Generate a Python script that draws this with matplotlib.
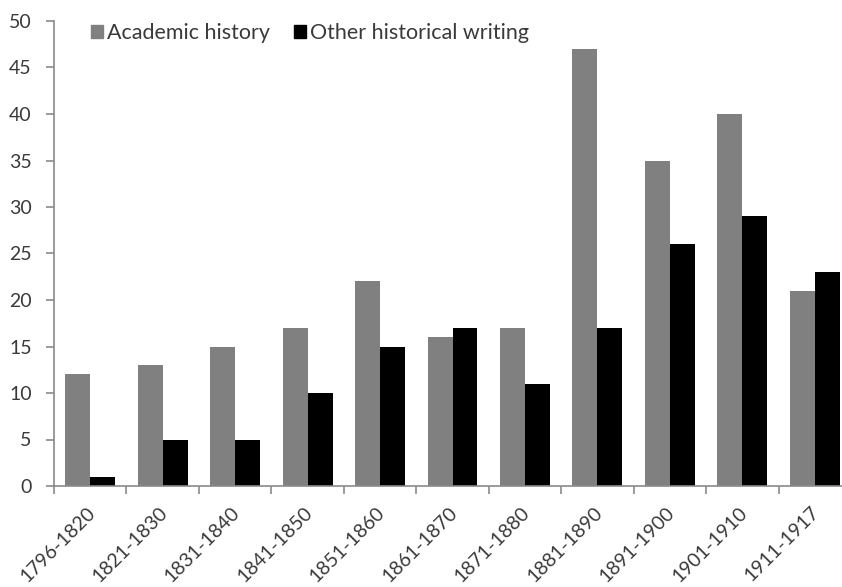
import matplotlib
matplotlib.use("Agg")
import matplotlib.pyplot as plt
import matplotlib.transforms as mtransforms
from matplotlib.patches import Patch
import numpy as np

periods = ["1796-1820", "1821-1830", "1831-1840", "1841-1850", "1851-1860",
           "1861-1870", "1871-1880", "1881-1890", "1891-1900", "1901-1910",
           "1911-1917"]
academic = [12, 13, 15, 17, 22, 16, 17, 47, 35, 40, 21]
other = [1, 5, 5, 10, 15, 17, 11, 17, 26, 29, 23]
series_names = ["Academic history", "Other historical writing"]

plt.rcParams["font.family"] = ["Lato", "DejaVu Sans"]

fig = plt.figure(figsize=(8.42, 5.87), dpi=100)
W, H = 842, 587
left, right, bottom, top = 54, 851, 486, 21
ax = fig.add_axes([left / W, (H - bottom) / H, (right - left) / W, (bottom - top) / H])

x = np.arange(len(periods))
bw = 0.345
ax.bar(x - bw / 2, academic, width=bw, color="#808080", label=series_names[0])
ax.bar(x + bw / 2, other, width=bw, color="#000000", label=series_names[1])

ax.set_xlim(-0.5, len(periods) - 0.5)
ax.set_ylim(0, 50)
ax.set_yticks(np.arange(0, 51, 5))

axis_col = "#8a8a8a"
text_col = "#3a3a3a"
for s in ["top", "right"]:
    ax.spines[s].set_visible(False)
for s in ["left", "bottom"]:
    ax.spines[s].set_color(axis_col)
    ax.spines[s].set_linewidth(1.2)

ax.tick_params(axis="y", direction="out", length=6, width=1.2, color=axis_col,
               labelsize=14, labelcolor=text_col, pad=10)

# category boundary ticks on the x axis, labels centred under each group
ax.set_xticks(np.arange(len(periods) + 1) - 0.5)
ax.set_xticklabels([])
ax.tick_params(axis="x", which="major", direction="out", length=6, width=1.2, color=axis_col)
ax.set_xticks(x, minor=True)
ax.set_xticklabels(periods, minor=True, rotation=45, ha="right", va="center",
                   rotation_mode="anchor", fontsize=14, color=text_col)
ax.tick_params(axis="x", which="minor", length=0, pad=17)
offset = mtransforms.ScaledTranslation(2 / 100, 0, fig.dpi_scale_trans)
for lbl in ax.get_xticklabels(minor=True):
    lbl.set_transform(lbl.get_transform() + offset)

handles = [Patch(color="#808080"), Patch(color="#000000")]
leg = ax.legend(handles, series_names, loc="upper left", frameon=False,
                bbox_to_anchor=(0.036, 1.015), ncol=2, fontsize=15.5,
                handlelength=0.55, handleheight=0.55, handletextpad=0.2,
                columnspacing=1.1, borderaxespad=0)
for t in leg.get_texts():
    t.set_color(text_col)

fig.savefig("out.png", dpi=100, facecolor="white")
